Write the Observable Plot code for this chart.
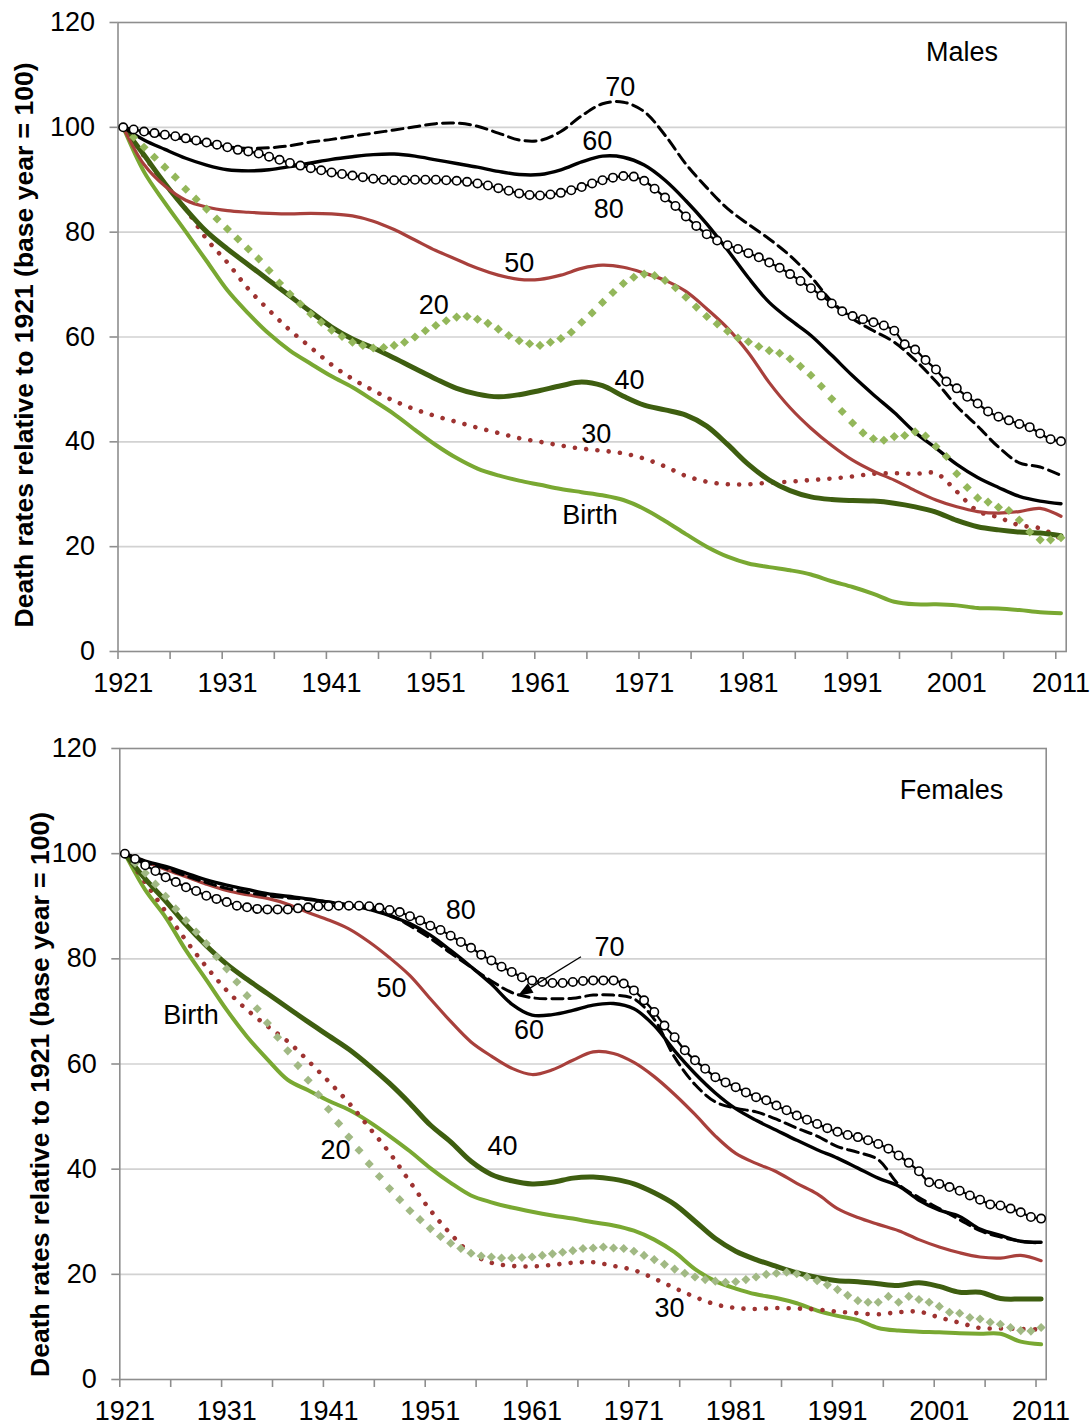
<!DOCTYPE html>
<html>
<head>
<meta charset="utf-8">
<script src="https://cdn.jsdelivr.net/npm/d3@7"></script>
<script src="https://cdn.jsdelivr.net/npm/@observablehq/plot@0.6"></script>
<style>
  html, body { margin: 0; padding: 0; background: #fff; }
  #chart { width: 1090px; }
  #chart svg { display: block; }
</style>
</head>
<body>
<div id="chart"></div>
<script>
// ---------- categories ----------
const lineYears = [1921,1923,1925,1927,1929,1931,1933,1935,1937,1939,
  1941,1943,1945,1947,1949,1951,1953,1955,1957,1959,
  1961,1963,1965,1967,1969,1971,1973,1975,1977,1979,
  1981,1983,1985,1987,1989,1991,1993,1995,1997,1999,
  2001,2003,2005,2007,2009,2011];
const annualYears = [1921,1922,1923,1924,1925,1926,1927,1928,1929,1930,
  1931,1932,1933,1934,1935,1936,1937,1938,1939,1940,
  1941,1942,1943,1944,1945,1946,1947,1948,1949,1950,
  1951,1952,1953,1954,1955,1956,1957,1958,1959,1960,
  1961,1962,1963,1964,1965,1966,1967,1968,1969,1970,
  1971,1972,1973,1974,1975,1976,1977,1978,1979,1980,
  1981,1982,1983,1984,1985,1986,1987,1988,1989,1990,
  1991,1992,1993,1994,1995,1996,1997,1998,1999,2000,
  2001,2002,2003,2004,2005,2006,2007,2008,2009,2010,2011];
const xTickYears = [1921,1926,1931,1936,1941,1946,1951,1956,1961,1966,1971,1976,1981,1986,1991,1996,2001,2006,2011];
const xLabelYears = [1921,1931,1941,1951,1961,1971,1981,1991,2001,2011];
const yTicks = [0,20,40,60,80,100,120];
const yGrid = [20,40,60,80,100];
const yAxisTitle = "Death rates relative to 1921 (base year = 100)";

// ---------- Males ----------
const maleBirth = [100,91.5,85.6,80.1,74.5,68.9,64.5,60.6,57.4,54.9,
  52.5,50.4,47.9,45.3,42.3,39.4,36.9,34.9,33.6,32.6,
  31.8,31.0,30.4,29.8,28.9,27.2,24.9,22.4,20.0,18.1,
  16.8,16.1,15.5,14.7,13.4,12.3,11.0,9.5,9.0,9.0,
  8.8,8.3,8.2,7.9,7.5,7.3];
const male30 = [100,94.5,89.2,84.4,78.7,74.2,69.2,65.1,61.3,58.0,
  54.7,52.0,49.8,47.8,46.2,44.9,43.8,42.7,41.7,40.7,
  40.0,39.3,38.7,38.3,37.8,36.8,35.3,33.5,32.4,31.9,
  31.9,32.2,32.4,32.7,33.0,33.4,33.9,34.0,33.9,34.0,
  30.5,26.8,25.6,24.1,23.5,21.5];
const male40 = [100,94.7,89.3,84.4,80.1,76.8,73.8,70.8,67.8,64.8,
  61.9,59.6,57.9,56.0,54.0,52.0,50.2,49.1,48.6,49.0,
  49.8,50.7,51.4,50.7,48.7,47.0,46.1,45.1,43.0,39.5,
  35.7,32.7,30.7,29.5,29.0,28.8,28.7,28.3,27.6,26.6,
  25.0,23.8,23.2,22.8,22.6,22.1];
const male50 = [100,92.9,88.8,86.1,84.8,84.1,83.8,83.6,83.5,83.6,
  83.5,83.1,82.1,80.5,78.5,76.5,74.8,73.1,71.8,71.0,
  71.0,71.8,73.1,73.7,73.3,72.2,70.8,68.7,65.4,61.7,
  57.0,51.3,46.5,42.6,39.3,36.5,34.4,32.7,30.7,28.9,
  27.6,26.7,26.4,26.7,27.3,25.8];
const male60 = [100,97.6,95.8,94.1,92.8,91.9,91.7,91.9,92.5,93.2,
  93.9,94.4,94.8,94.9,94.5,93.8,93.1,92.4,91.6,91.0,
  91.0,91.9,93.4,94.5,94.3,92.8,89.9,86.0,81.6,76.6,
  71.3,66.6,63.3,60.3,56.5,52.6,49.0,45.6,41.8,38.8,
  35.7,33.2,31.3,29.6,28.7,28.2];
const male70 = [100,99.1,98.4,97.7,96.9,96.3,96.0,96.1,96.5,97.2,
  97.7,98.3,98.9,99.5,100.1,100.7,100.8,100.2,98.9,97.6,
  97.5,99.2,102.2,104.5,104.8,103.0,98.5,93.0,88.5,84.5,
  81.5,78.7,75.5,71.5,66.8,63.5,61.2,59.0,55.6,51.5,
  46.8,43.0,39.0,36.0,35.2,33.6];
const male20 = [100,98.1,96.2,94.3,92.4,90.5,88.2,86.3,84.4,82.5,
  80.6,78.7,76.8,74.9,72.7,70.3,68.2,66.3,64.4,62.8,
  61.3,60.1,59.0,58.4,57.9,58.0,58.4,59.0,60.0,61.2,
  62.2,63.1,63.8,63.9,63.4,62.6,61.5,60.3,59.3,58.7,
  58.4,59.0,59.7,60.9,62.8,64.6,66.6,68.5,70.2,71.4,
  72.0,71.7,70.8,69.4,67.6,65.7,63.9,62.5,61.1,59.8,
  59.1,58.2,57.4,56.9,55.8,54.4,52.7,50.6,48.2,45.8,
  43.6,41.7,40.6,40.3,41.0,41.2,41.9,41.1,39.1,37.2,
  33.9,31.3,29.3,28.5,27.5,26.9,25.1,22.8,21.3,21.3,21.7];
const male80 = [100,99.6,99.2,98.9,98.6,98.3,97.9,97.5,97.1,96.7,
  96.2,95.7,95.4,95.0,94.4,93.8,93.2,92.7,92.2,91.8,
  91.4,91.1,90.8,90.5,90.2,90.0,89.9,89.9,90.0,90.0,
  90.0,89.9,89.8,89.6,89.3,88.9,88.4,87.9,87.4,87.1,
  87.0,87.2,87.5,88.0,88.6,89.3,89.9,90.4,90.7,90.6,
  89.8,88.3,86.6,85.0,83.0,81.2,79.6,78.4,77.5,76.8,
  76.0,75.2,74.2,73.2,72.0,70.7,69.3,67.9,66.4,64.9,
  64.0,63.4,62.8,62.2,61.2,58.6,57.6,55.6,53.8,51.5,
  50.2,48.6,47.3,45.8,44.8,44.1,43.4,42.8,41.6,40.5,40.1];

// ---------- Females ----------
const femaleBirth = [100,93.1,87.9,81.6,76.0,70.3,65.2,60.9,57.0,55.0,
  53.0,51.3,49.0,46.3,43.4,40.2,37.4,35.0,33.7,32.7,
  31.9,31.2,30.6,29.9,29.3,28.3,26.6,24.2,21.0,18.7,
  17.3,16.2,15.5,14.5,13.1,12.1,11.3,9.8,9.3,9.1,
  9.0,8.8,8.7,8.7,7.2,6.7];
const female30 = [100,94.5,89.0,83.5,78.5,74.0,70.3,67.2,64.3,60.6,
  56.7,52.6,47.9,43.1,37.6,32.2,27.7,24.0,22.2,21.6,
  21.5,21.8,22.2,22.3,21.6,20.8,19.2,17.4,15.7,14.3,
  13.6,13.4,13.6,13.5,13.3,12.9,12.6,12.4,12.8,12.9,
  11.8,10.8,9.8,9.7,9.6,9.5];
const female40 = [100,95.2,91.0,86.5,82.5,79.0,76.1,73.4,70.7,68.0,
  65.4,62.8,59.7,56.3,52.5,48.4,45.2,41.5,39.0,37.8,
  37.2,37.5,38.3,38.5,38.1,37.2,35.5,33.3,30.1,26.8,
  24.4,22.8,21.5,20.3,19.4,18.8,18.6,18.2,17.9,18.4,
  17.7,16.6,16.6,15.4,15.3,15.3];
const female50 = [100,98.5,97.0,95.6,94.2,93.0,92.2,91.5,90.4,88.8,
  87.4,85.7,83.2,80.2,76.8,72.4,68.1,64.2,61.5,59.2,
  58.0,58.9,60.7,62.3,62.0,60.3,57.6,54.2,50.4,46.3,
  43.0,41.1,39.5,37.3,35.3,32.5,30.8,29.5,28.3,26.6,
  25.2,24.1,23.3,23.1,23.6,22.6];
const female60 = [100,98.6,97.6,96.3,95.0,94.0,93.2,92.4,91.9,91.4,
  90.8,90.2,89.4,88.2,86.7,84.5,81.6,78.5,75.2,71.4,
  69.3,69.4,70.2,71.2,71.5,70.5,67.3,62.5,58.2,54.5,
  51.5,49.3,47.4,45.5,43.7,42.1,40.2,38.3,36.8,34.1,
  32.2,31.0,28.6,27.4,26.3,26.1];
const female70 = [100,98.4,97.2,95.8,94.5,93.4,92.6,92.0,91.6,91.3,
  90.8,90.3,89.6,88.4,86.3,83.9,81.1,78.4,75.8,73.6,
  72.6,72.4,72.5,73.1,73.1,72.4,68.5,61.3,56.1,52.8,
  51.6,50.9,49.5,47.8,46.3,44.3,43.2,41.8,37.1,34.6,
  32.5,30.4,28.3,27.1,26.3,25.9];
const female20 = [100,98.2,96.3,94.2,91.9,89.5,87.3,85.1,82.9,80.4,
  78.1,75.6,73.0,70.5,67.8,65.1,62.5,59.7,56.9,54.2,
  51.4,48.7,46.1,43.6,41.0,38.6,36.3,34.2,32.1,30.4,
  28.7,27.2,25.9,24.9,24.0,23.5,23.3,23.1,23.1,23.2,
  23.3,23.6,23.9,24.2,24.5,24.9,25.0,25.2,25.0,24.9,
  24.4,23.6,22.8,21.9,21.0,20.2,19.5,19.0,18.7,18.5,
  18.6,19.0,19.5,20.0,20.2,20.4,20.1,19.5,18.8,18.0,
  17.1,16.0,15.0,14.7,14.7,15.8,14.7,15.8,15.2,14.7,
  13.9,12.8,12.6,11.8,11.5,10.9,10.5,9.9,9.3,9.2,9.9];
const female80 = [100,99.0,97.8,96.7,95.5,94.6,93.6,92.9,92.0,91.4,
  90.8,90.1,89.8,89.5,89.4,89.4,89.4,89.6,89.8,90.0,
  90.0,90.1,90.1,90.1,90.0,89.7,89.3,88.9,88.1,87.3,
  86.3,85.5,84.4,83.2,82.1,80.8,79.7,78.5,77.5,76.5,
  75.9,75.6,75.4,75.4,75.6,75.8,75.9,75.9,75.9,75.3,
  74.0,72.1,69.9,67.3,65.1,62.6,60.7,59.1,57.5,56.5,
  55.6,54.6,53.7,53.1,52.1,51.2,50.2,49.4,48.6,47.8,
  47.1,46.5,46.1,45.5,44.8,43.9,42.6,41.2,39.6,37.5,
  37.2,36.6,35.9,35.0,34.2,33.3,33.1,32.5,31.8,30.9,30.6];

// ---------- annotations (text, then anchor in data space) ----------
const maleLabelText = ["Males","70","60","80","50","20","40","30","Birth"];
const maleLabelX    = [2002.0,1969.2,1967.0,1968.1,1959.5,1951.3,1970.1,1966.9,1966.3];
const maleLabelY    = [114.3,107.6,97.3,84.3,74.0,66.0,51.7,41.4,25.9];
const femaleLabelText = ["Females","80","70","50","60","Birth","40","20","30"];
const femaleLabelX    = [2002.7,1954.5,1969.1,1947.7,1961.2,1928.0,1958.6,1942.2,1975.0];
const femaleLabelY    = [112.0,89.2,82.2,74.4,66.4,69.2,44.3,43.6,13.5];
const femaleArrow = {x1: 1966.3, y1: 80.4, x2: 1960.1, y2: 73.0};

// ---------- styles ----------
const C = {
  birth: "#79a832", s30: "#9e3331", s40: "#3e5e10", s50: "#a8403c",
  s20m: "#93b75a", s20f: "#a1b984", black: "#000", axis: "#8e8e8e", grid: "#d2d2d2"
};
const FONT = "'Liberation Sans', Arial, Helvetica, sans-serif";

const arrowHead = {
  draw(ctx) { ctx.moveTo(0, 0); ctx.lineTo(-5.5, 15); ctx.lineTo(5.5, 15); ctx.closePath(); }
};

function panel(p) {
  const L = vals => lineYears.map((yr, i) => ({year: yr, value: vals[i]}));
  const A = vals => annualYears.map((yr, i) => ({year: yr, value: vals[i]}));
  const X = d => d.year + 0.5; // each year is plotted at the centre of its category slot
  const curve = "catmull-rom";
  const labels = p.labelText.map((t, i) => ({t, x: p.labelX[i], y: p.labelY[i]}));
  const marks = [
    Plot.ruleY(yGrid, {stroke: C.grid, strokeWidth: 1.6}),
    Plot.frame({stroke: C.axis, strokeWidth: 1.6}),
    Plot.axisY({ticks: yTicks, tickSize: 8, tickPadding: 15, stroke: C.axis, strokeWidth: 1.6, fill: "#000", label: null}),
    Plot.axisX({ticks: xTickYears, tickSize: 8, tickFormat: () => "", stroke: C.axis, strokeWidth: 1.6, label: null}),
    Plot.axisX({ticks: xLabelYears.map(y => y + 0.5), tickSize: 0, tickPadding: 21, tickFormat: d => String(Math.round(d - 0.5)), fill: "#000", label: null}),
    Plot.line(L(p.birth), {x: X, y: "value", stroke: C.birth, strokeWidth: 4, curve}),
    Plot.line(L(p.s30), {x: X, y: "value", stroke: C.s30, strokeWidth: 4.6, strokeDasharray: "0.01 11.3", strokeLinecap: "round", curve}),
    Plot.line(L(p.s40), {x: X, y: "value", stroke: C.s40, strokeWidth: 5, curve}),
    Plot.line(L(p.s50), {x: X, y: "value", stroke: C.s50, strokeWidth: 3.2, curve}),
    Plot.line(L(p.s60), {x: X, y: "value", stroke: C.black, strokeWidth: 3.4, curve}),
    Plot.line(L(p.s70), {x: X, y: "value", stroke: C.black, strokeWidth: 3, strokeDasharray: "11 6", curve}),
    Plot.dot(A(p.s20), {x: X, y: "value", symbol: "diamond2", r: 4.1, fill: p.c20, stroke: null}),
    Plot.line(A(p.s80), {x: X, y: "value", stroke: C.black, strokeWidth: 2.2, curve}),
    Plot.dot(A(p.s80), {x: X, y: "value", r: 4.2, fill: "#fff", stroke: C.black, strokeWidth: 1.6}),
    Plot.text(labels, {x: "x", y: "y", text: "t", fontSize: 27, fill: "#000"}),
    Plot.text([yAxisTitle], {frameAnchor: "left", textAnchor: "middle", lineAnchor: "middle", dx: p.titleDx, dy: p.titleDy, rotate: -90, fontSize: 26.5, fontWeight: "bold", fill: "#000"})
  ];
  if (p.arrow) {
    marks.push(Plot.link([p.arrow], {x1: "x1", y1: "y1", x2: "x2", y2: "y2", stroke: "#000", strokeWidth: 1.4}));
    marks.push(Plot.dot([p.arrow], {x: "x2", y: "y2", symbol: arrowHead, rotate: 239, r: 5, fill: "#000", stroke: null}));
  }
  return Plot.plot({
    width: 1090, height: 712,
    marginTop: p.mt, marginBottom: p.mb, marginLeft: p.ml, marginRight: p.mr,
    x: {domain: [1921, 2012], axis: null},
    y: {domain: [0, 120], axis: null},
    style: {fontFamily: FONT, fontSize: "27px", background: "#fff", color: "#000", overflow: "visible"},
    marks
  });
}

const chart = document.getElementById("chart");
chart.append(panel({
  birth: maleBirth, s30: male30, s40: male40, s50: male50, s60: male60, s70: male70,
  s20: male20, s80: male80, c20: C.s20m,
  labelText: maleLabelText, labelX: maleLabelX, labelY: maleLabelY,
  mt: 22, mb: 61, ml: 117.5, mr: 24.3, titleDx: -93, titleDy: 8
}));
chart.append(panel({
  birth: femaleBirth, s30: female30, s40: female40, s50: female50, s60: female60, s70: female70,
  s20: female20, s80: female80, c20: C.s20f,
  labelText: femaleLabelText, labelX: femaleLabelX, labelY: femaleLabelY,
  arrow: femaleArrow,
  mt: 36, mb: 45, ml: 119.3, mr: 44.3, titleDx: -79, titleDy: 30.5
}));
</script>
</body>
</html>
